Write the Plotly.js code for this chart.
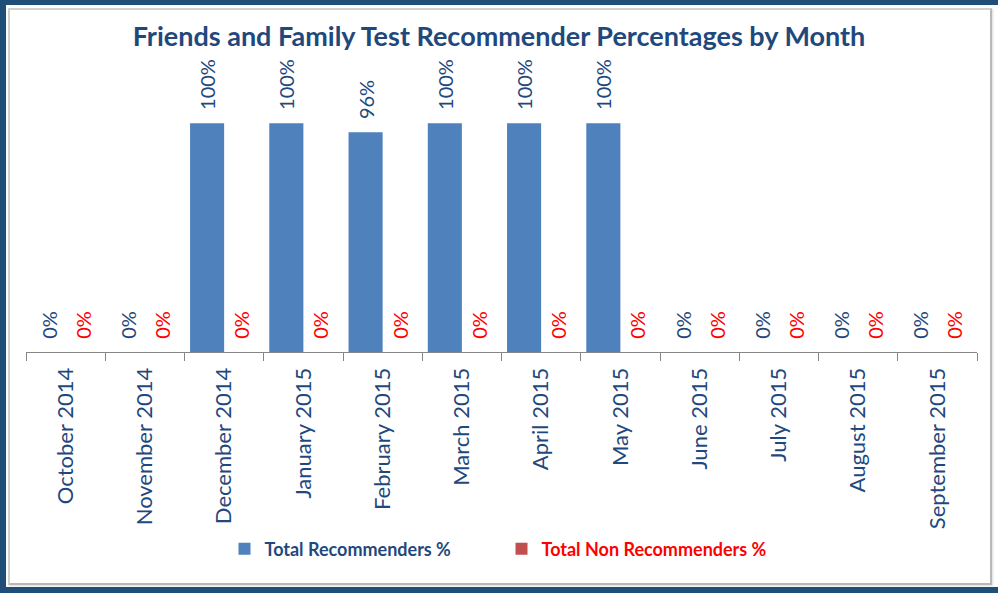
<!DOCTYPE html>
<html>
<head>
<meta charset="utf-8">
<script src="https://cdn.plot.ly/plotly-3.0.1.min.js"></script>
<style>
  html, body { margin: 0; padding: 0; background: #fff; }
  #wrap { position: relative; width: 998px; height: 593px; overflow: hidden; }
  #chart { position: absolute; left: 0; top: 0; width: 998px; height: 593px; }
  #outer { position: absolute; left: 0; top: 0; width: 998px; height: 593px; box-sizing: border-box;
           border-top: 5px solid #1F4E79; border-left: 6px solid #1F4E79; border-bottom: 6px solid #1F4E79;
           pointer-events: none; }
  #inner { position: absolute; left: 8px; top: 8px; width: 984px; height: 577px; box-sizing: border-box;
           border: 2px solid #D0D0D0; border-right-color: #B8B8B8; border-bottom-color: #B8B8B8;
           box-shadow: 1px 1px 2px rgba(0,0,0,0.15); pointer-events: none; }
</style>
</head>
<body>
<div id="wrap">
  <div id="chart"></div>
  <div id="outer"></div>
  <div id="inner"></div>
</div>
<script>
const months = ["October 2014", "November 2014", "December 2014", "January 2015", "February 2015",
  "March 2015", "April 2015", "May 2015", "June 2015", "July 2015", "August 2015", "September 2015"];
const recommenders = [0, 0, 100, 100, 96, 100, 100, 100, 0, 0, 0, 0];
const nonRecommenders = [0, 0, 0, 0, 0, 0, 0, 0, 0, 0, 0, 0];
const seriesNames = ["Total Recommenders %", "Total Non Recommenders %"];

const pad = '\u00A0\u00A0';
const labelFont = 'Lato, "Open Sans", sans-serif';

const traces = [
  {
    type: 'bar', x: months, y: recommenders, name: seriesNames[0],
    marker: { color: '#4F81BD' },
    text: recommenders.map(v => pad + v + '%'),
    textposition: 'outside', textangle: -90, constraintext: 'none', cliponaxis: false,
    textfont: { family: labelFont, size: 20, color: '#1F497D' },
    hoverinfo: 'skip'
  },
  {
    type: 'bar', x: months, y: nonRecommenders,
    name: '<span style="color:#FF0000">' + seriesNames[1] + '</span>',
    marker: { color: '#C0504D' },
    text: nonRecommenders.map(v => pad + v + '%'),
    textposition: 'outside', textangle: -90, constraintext: 'none', cliponaxis: false,
    textfont: { family: labelFont, size: 20, color: '#FF0000' },
    hoverinfo: 'skip'
  }
];

const layout = {
  width: 998, height: 593,
  margin: { l: 26, r: 21, t: 66, b: 241 },
  paper_bgcolor: '#FFFFFF', plot_bgcolor: '#FFFFFF',
  barmode: 'group', bargap: 0.14, bargroupgap: 0,
  font: { family: labelFont, color: '#1F497D' },
  title: {
    text: 'Friends and Family Test Recommender Percentages by Month',
    font: { family: labelFont, size: 27, color: '#1F497D', weight: 'bold' },
    x: 0.5, xref: 'container', xanchor: 'center',
    y: 1 - 37 / 593, yref: 'container', yanchor: 'middle'
  },
  xaxis: {
    type: 'category',
    showline: true, linecolor: '#868686', linewidth: 1,
    ticks: 'outside', tickson: 'boundaries', ticklen: 8, tickcolor: '#868686', tickwidth: 1,
    tickangle: -90, ticklabelstandoff: 6,
    tickfont: { family: labelFont, size: 22, color: '#1F497D' },
    showgrid: false, zeroline: false, fixedrange: true
  },
  yaxis: {
    range: [0, 125], visible: false, showgrid: false, zeroline: false, fixedrange: true
  },
  showlegend: true,
  legend: {
    orientation: 'h', x: 0.5, xanchor: 'center',
    y: (593 - 549) / 593, yref: 'container', yanchor: 'middle',
    entrywidth: 232,
    font: { family: labelFont, size: 18, color: '#1F497D', weight: 'bold' },
    bgcolor: 'rgba(0,0,0,0)', itemclick: false, itemdoubleclick: false
  }
};

Plotly.newPlot('chart', traces, layout, { displayModeBar: false, staticPlot: true });
</script>
</body>
</html>
